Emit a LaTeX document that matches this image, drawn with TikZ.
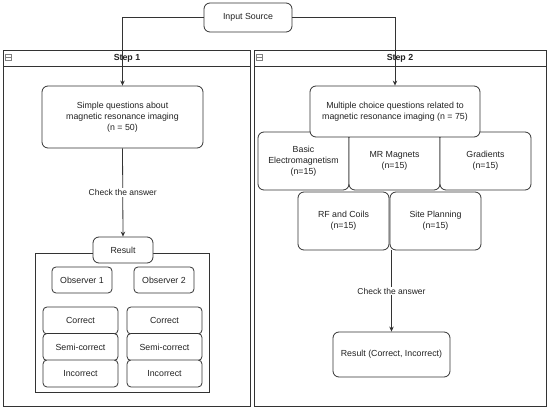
\documentclass[tikz,border=0pt]{standalone}
\usepackage{fontspec}
\setmainfont{Liberation Sans}
\usetikzlibrary{arrows.meta}
\definecolor{ln}{HTML}{333333}
\definecolor{tx}{HTML}{222222}
\tikzset{
  box/.style={draw=ln, line width=0.8pt, rounded corners=6pt, fill=white, inner sep=0pt, align=center, text=tx, font=\fontsize{8.8}{11}\selectfont},
  sbox/.style={box, rounded corners=4pt},
  cont/.style={draw=ln, line width=0.8pt, inner sep=0pt, fill=white},
  title/.style={font=\fontsize{8.8}{11}\selectfont\bfseries, text=tx},
  lbl/.style={fill=white, inner sep=1pt, text=tx, font=\fontsize{8.5}{10}\selectfont},
  arr/.style={draw=ln, line width=0.8pt, -{Stealth[length=5pt,width=4.5pt]}},
  icon/.style={draw=black!50, line width=0.5pt, minimum width=6pt, minimum height=6pt, inner sep=0pt}
}
\begin{document}
\begin{tikzpicture}[x=1pt,y=-1pt]
\useasboundingbox (0,0) rectangle (550,411);
% containers
\node[cont, minimum width=247pt, minimum height=356pt] (c1) at (126.5,228) {};
\node[cont, minimum width=292pt, minimum height=356pt] (c2) at (400,228) {};
\draw[ln, line width=0.8pt] (3,66) -- (250,66);
\draw[ln, line width=0.8pt] (254,66) -- (546,66);
\node[title] (t1) at (127,58) {Step 1};
\node[title] (t2) at (400,58) {Step 2};
\node[icon] (i1) at (8.5,57.5) {};
\draw[black!50, line width=0.5pt] (i1.west) -- (i1.east);
\node[icon] (i2) at (259.5,57.5) {};
\draw[black!50, line width=0.5pt] (i2.west) -- (i2.east);
% input
\node[box, minimum width=88pt, minimum height=29pt] (in) at (248,17.5) {Input Source};
% step 1
\node[box, minimum width=161pt, minimum height=62pt] (sq) at (122.5,117) {Simple questions about\\magnetic resonance imaging\\(n = 50)};
\node[cont, minimum width=174pt, minimum height=139pt] (rc) at (122,322.5) {};
\node[box, minimum width=60pt, minimum height=26pt] (res1) at (123,250) {Result};
\node[sbox, minimum width=60pt, minimum height=26pt] (o1) at (82,280) {Observer 1};
\node[sbox, minimum width=60pt, minimum height=26pt] (o2) at (164,280) {Observer 2};
\node[sbox, minimum width=75pt, minimum height=27pt] (a1) at (80.5,320.5) {Correct};
\node[sbox, minimum width=75pt, minimum height=27pt] (b1) at (80.5,347) {Semi-correct};
\node[sbox, minimum width=75pt, minimum height=27pt] (d1) at (80.5,373.5) {Incorrect};
\node[sbox, minimum width=75pt, minimum height=27pt] (a2) at (164.5,320.5) {Correct};
\node[sbox, minimum width=75pt, minimum height=27pt] (b2) at (164.5,347) {Semi-correct};
\node[sbox, minimum width=75pt, minimum height=27pt] (d2) at (164.5,373.5) {Incorrect};
% step 2
\node[box, minimum width=91pt, minimum height=58pt] (be) at (303.5,161) {Basic\\Electromagnetism\\(n=15)};
\node[box, minimum width=91pt, minimum height=58pt] (mr) at (394.5,161) {MR Magnets\\(n=15)};
\node[box, minimum width=91pt, minimum height=58pt] (gr) at (485.5,161) {Gradients\\(n=15)};
\node[box, minimum width=170pt, minimum height=51pt] (mc) at (395,111.5) {Multiple choice questions related to\\magnetic resonance imaging (n = 75)};
\node[box, minimum width=91pt, minimum height=58pt] (rf) at (343.5,221) {RF and Coils\\(n=15)};
\node[box, minimum width=91pt, minimum height=58pt] (sp) at (435.5,221) {Site Planning\\(n=15)};
\node[box, minimum width=117pt, minimum height=45pt] (rr) at (391.5,354.5) {Result (Correct, Incorrect)};
% connectors
\draw[arr] (in.west) -| (sq.north);
\draw[arr] (in.east) -| (mc.north);
\draw[arr] (sq.south) -- node[lbl] (l1) {Check the answer} (res1.north);
\draw[arr] (rr.north |- rf.south) -- node[lbl] (l2) {Check the answer} (rr.north);
\end{tikzpicture}
\end{document}
